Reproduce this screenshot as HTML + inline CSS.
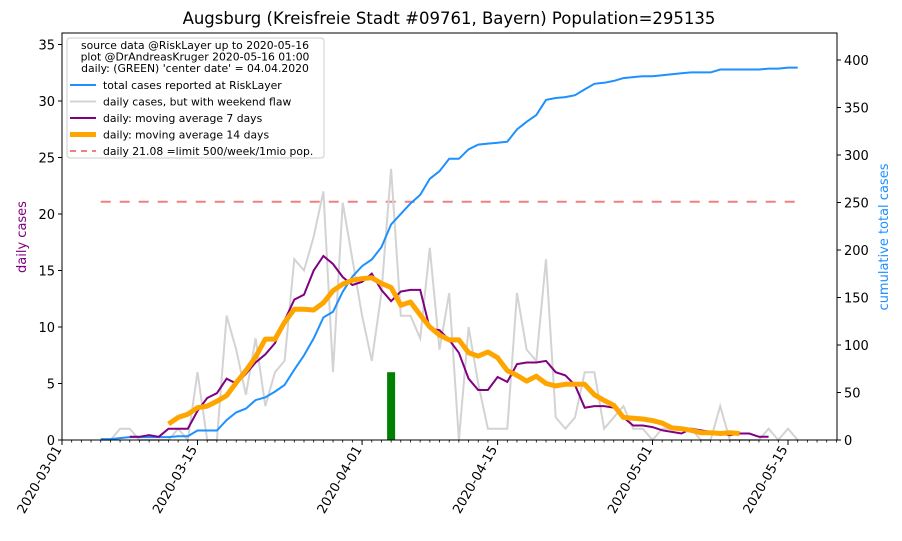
<!DOCTYPE html>
<html><head><meta charset="utf-8"><style>
body{margin:0;background:#fff}
svg{font-family:"DejaVu Sans","Liberation Sans",sans-serif}
</style></head><body>
<svg id="chart" width="902" height="536" viewBox="0 0 902 536" xmlns="http://www.w3.org/2000/svg">
<rect x="0" y="0" width="902" height="536" fill="#fff"/>
<text x="449" y="24" font-size="16.5" text-anchor="middle">Augsburg (Kreisfreie Stadt #09761, Bayern) Population=295135</text>
<g id="plot"></g>
<text transform="translate(26,237) rotate(-90)" font-size="13" fill="purple" text-anchor="middle">daily cases</text>
<text transform="translate(888,237) rotate(-90)" font-size="13" fill="#1e90ff" text-anchor="middle">cumulative total cases</text>
</svg>
<script>
const startDay = 4;
const dailyCases = [0,0,1,1,0,0,0,0,1,0,6,0,0,11,8,4,9,3,6,7,16,15,18,22,6,21,16,11,7,13,24,11,11,9,17,8,13,0,10,5,1,1,1,13,8,7,16,2,1,2,6,6,1,2,3,1,1,0,1,1,1,1,0,0,3,0,0,0,0,1,0,1,0];
const cumulativeCases = [1,1,2,3,3,3,3,3,4,4,10,10,10,21,29,33,42,45,51,58,74,89,107,129,135,156,172,183,190,203,227,238,249,258,275,283,296,296,306,311,312,313,314,327,335,342,358,360,361,363,369,375,376,378,381,382,383,383,384,385,386,387,387,387,390,390,390,390,390,391,391,392,392];
const tickDays = [0,14,31,45,61,75];
const tickLabels = ["2020-03-01","2020-03-15","2020-04-01","2020-04-15","2020-05-01","2020-05-15"];
const leftTicks = [0,5,10,15,20,25,30,35];
const rightTicks = [0,50,100,150,200,250,300,350,400];
const centerDay = 34;
const centerValue = 6;
const limitValue = 21.08;

const X0=62,X1=837,Y0=440,Y1=33;
const xS=d=>X0+d*9.68;
const yL=v=>Y0-v*11.3;
const yR=v=>Y0-v*0.95;
const NS="http://www.w3.org/2000/svg";
const g=document.getElementById('plot');
function mk(tag,attrs,parent){const e=document.createElementNS(NS,tag);for(const k in attrs)e.setAttribute(k,attrs[k]);(parent||g).appendChild(e);return e;}

function ma(arr,back,fwd){const out=[];for(let i=back;i<arr.length-fwd;i++){let s=0;for(let j=i-back;j<=i+fwd;j++)s+=arr[j];out.push([startDay+i,s/(back+fwd+1)]);}return out;}
function pathFrom(pts,ys){return pts.map((p,i)=>(i?'L':'M')+xS(p[0]).toFixed(1)+','+ys(p[1]).toFixed(1)).join('');}

let e=mk('line',{x1:xS(startDay),x2:xS(startDay+dailyCases.length-1),y1:yL(limitValue),y2:yL(limitValue),stroke:'#f08080','stroke-width':2,'stroke-dasharray':'10,9'});


e=mk('rect',{x:xS(centerDay)-4,y:yL(centerValue),width:8,height:yL(0)-yL(centerValue),fill:'green'});


const dailyPts=dailyCases.map((v,i)=>[startDay+i,v]);
e=mk('path',{d:pathFrom(dailyPts,yL),fill:'none',stroke:'#d3d3d3','stroke-width':2});


const cumPts=cumulativeCases.map((v,i)=>[startDay+i,v]);
e=mk('path',{d:pathFrom(cumPts,yR),fill:'none',stroke:'#1e90ff','stroke-width':2});


e=mk('path',{d:pathFrom(ma(dailyCases,3,3),yL),fill:'none',stroke:'purple','stroke-width':2});


e=mk('path',{d:pathFrom(ma(dailyCases,7,6),yL),fill:'none',stroke:'orange','stroke-width':5,'stroke-linejoin':'round'});



e=mk('rect',{x:X0,y:Y1,width:X1-X0,height:Y0-Y1,fill:'none',stroke:'#000','stroke-width':1});


for(let d=0;d<=80;d++){e=mk('line',{x1:xS(d),x2:xS(d),y1:Y0,y2:Y0+2.5,stroke:'#000','stroke-width':0.8});

}
tickDays.forEach((d,i)=>{
 e=mk('line',{x1:xS(d),x2:xS(d),y1:Y0,y2:Y0+5,stroke:'#000','stroke-width':1});
 
 
 e=mk('text',{transform:`translate(${xS(d)},${Y0+9}) rotate(-60)`,'font-size':13,'text-anchor':'end'});
 e.textContent=tickLabels[i];
 
 
});
leftTicks.forEach(v=>{
 e=mk('line',{x1:X0-4,x2:X0,y1:yL(v),y2:yL(v),stroke:'#000'});
 
 
 e=mk('text',{x:X0-7,y:yL(v)+5,'font-size':13,'text-anchor':'end'});e.textContent=v;
 
 
});
rightTicks.forEach(v=>{
 e=mk('line',{x1:X1,x2:X1+4,y1:yR(v),y2:yR(v),stroke:'#000'});
 
 
 e=mk('text',{x:X1+7,y:yR(v)+5,'font-size':13});e.textContent=v;
 
 
});

const lg=mk('g',{});


mk('rect',{x:67,y:38,width:257,height:120,rx:3,fill:'#fff','fill-opacity':0.85,stroke:'#ccc'},lg);
["source data @RiskLayer up to 2020-05-16","plot @DrAndreasKruger 2020-05-16 01:00","daily: (GREEN) 'center date' = 04.04.2020"].forEach((t,i)=>{
 e=mk('text',{x:195,y:49+i*11.5,'font-size':10.8,'text-anchor':'middle'},lg);e.textContent=t;
 
 
});
const entries=[["total cases reported at RiskLayer","#1e90ff",2,""],["daily cases, but with weekend flaw","#d3d3d3",2,""],["daily: moving average 7 days","purple",2,""],["daily: moving average 14 days","orange",5,""],["daily 21.08 =limit 500/week/1mio pop.","#f08080",2,"6,5"]];
entries.forEach((en,i)=>{
 const y=85+i*16.5;
 mk('line',{x1:70,x2:96,y1:y,y2:y,stroke:en[1],'stroke-width':en[2],'stroke-dasharray':en[3]||'none'},lg);
 e=mk('text',{x:103,y:y+4,'font-size':10.8},lg);e.textContent=en[0];
 
 
});
</script>
</body></html>
